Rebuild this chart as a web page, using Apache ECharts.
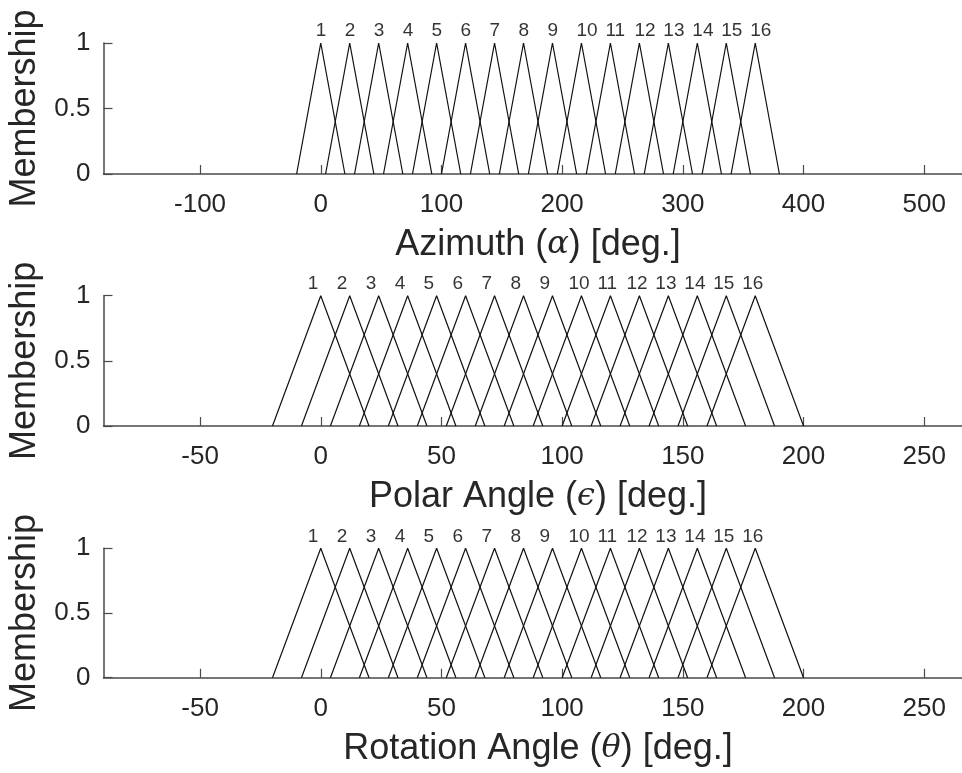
<!DOCTYPE html>
<html>
<head>
<meta charset="utf-8">
<script src="https://cdn.jsdelivr.net/npm/echarts@6/dist/echarts.min.js"></script>
<style>
html,body{margin:0;padding:0;background:#fff;}
#c{width:962px;height:773px;}
</style>
</head>
<body>
<div id="c"></div>
<script>
// ---- data ----
const setLabels = ['1','2','3','4','5','6','7','8','9','10','11','12','13','14','15','16'];
const azimuthCenters = [0,24,48,72,96,120,144,168,192,216,240,264,288,312,336,360];
const polarCenters = [0,12,24,36,48,60,72,84,96,108,120,132,144,156,168,180];
const rotationCenters = [0,12,24,36,48,60,72,84,96,108,120,132,144,156,168,180];
const halfWidths = [20, 20, 20];
const azimuthTicks = [-100,0,100,200,300,400,500];
const polarTicks = [-50,0,50,100,150,200,250];
const rotationTicks = [-50,0,50,100,150,200,250];
const azimuthRange = [-180, 540];
const polarRange = [-90, 270];
const rotationRange = [-90, 270];
const peakValue = 1;
const labelLevel = 1.09;

// ---- layout / styles ----
const FONT = '"Liberation Sans", Arial, sans-serif';
const TXT = '#262626';
const AXC = '#4a4a4a';
const panels = [
  {centers: azimuthCenters, ticks: azimuthTicks, range: azimuthRange, hw: halfWidths[0],
   name: 'Azimuth ({g|α}) [deg.]', top: 43, height: 131, labOff: -5},
  {centers: polarCenters, ticks: polarTicks, range: polarRange, hw: halfWidths[1],
   name: 'Polar Angle ({g|ϵ}) [deg.]', top: 295.7, height: 130.3, labOff: -13},
  {centers: rotationCenters, ticks: rotationTicks, range: rotationRange, hw: halfWidths[2],
   name: 'Rotation Angle ({g|θ}) [deg.]', top: 548.3, height: 129.4, labOff: -13}
];

const grid = [], xAxis = [], yAxis = [], series = [];
panels.forEach((p, i) => {
  grid.push({left: 103.5, top: p.top, width: 869, height: p.height, outerBoundsMode: 'none', containLabel: false});
  xAxis.push({
    type: 'value', gridIndex: i, min: p.range[0], max: p.range[1],
    name: p.name, nameLocation: 'middle', nameGap: 53,
    nameTextStyle: {fontFamily: FONT, fontSize: 36, color: TXT,
      rich: {g: {fontFamily: '"DejaVu Serif", "Liberation Serif", serif', fontStyle: 'italic', fontSize: 32, color: TXT}}},
    axisLine: {show: true, onZero: false, lineStyle: {color: AXC, width: 1.5}},
    axisTick: {show: true, inside: true, length: 9, customValues: p.ticks, lineStyle: {color: AXC, width: 1.2}},
    axisLabel: {show: true, customValues: p.ticks, fontFamily: FONT, fontSize: 26, color: TXT, margin: 18},
    splitLine: {show: false}
  });
  yAxis.push({
    type: 'value', gridIndex: i, min: 0, max: 1, interval: 0.5,
    name: 'Membership', nameLocation: 'middle', nameGap: 51,
    nameTextStyle: {fontFamily: FONT, fontSize: 36, color: TXT},
    axisLine: {show: true, onZero: false, lineStyle: {color: AXC, width: 1.5}},
    axisTick: {show: true, inside: true, length: 9, lineStyle: {color: AXC, width: 1.2}},
    axisLabel: {show: true, fontFamily: FONT, fontSize: 26, color: TXT, margin: 13,
      padding: [5, 0, 0, 0], formatter: v => String(v)},
    splitLine: {show: false}
  });
  p.centers.forEach((c) => {
    series.push({
      type: 'line', xAxisIndex: i, yAxisIndex: i, silent: true, animation: false,
      symbol: 'none', clip: false,
      lineStyle: {color: '#111', width: 1.2},
      data: [[c - p.hw, 0], [c, peakValue], [c + p.hw, 0]]
    });
  });
  series.push({
    type: 'scatter', xAxisIndex: i, yAxisIndex: i, silent: true, animation: false,
    symbolSize: 0, clip: false,
    data: p.centers.map((c, k) => ({value: [c, labelLevel], name: setLabels[k]})),
    label: {show: true, position: 'inside', align: 'left', verticalAlign: 'middle',
      offset: [p.labOff, 0], formatter: d => d.name,
      fontFamily: FONT, fontSize: 19, color: '#000'}
  });
});

const chart = echarts.init(document.getElementById('c'), null, {renderer: 'canvas'});
chart.setOption({backgroundColor: '#fff', animation: false, grid, xAxis, yAxis, series});
</script>
</body>
</html>
